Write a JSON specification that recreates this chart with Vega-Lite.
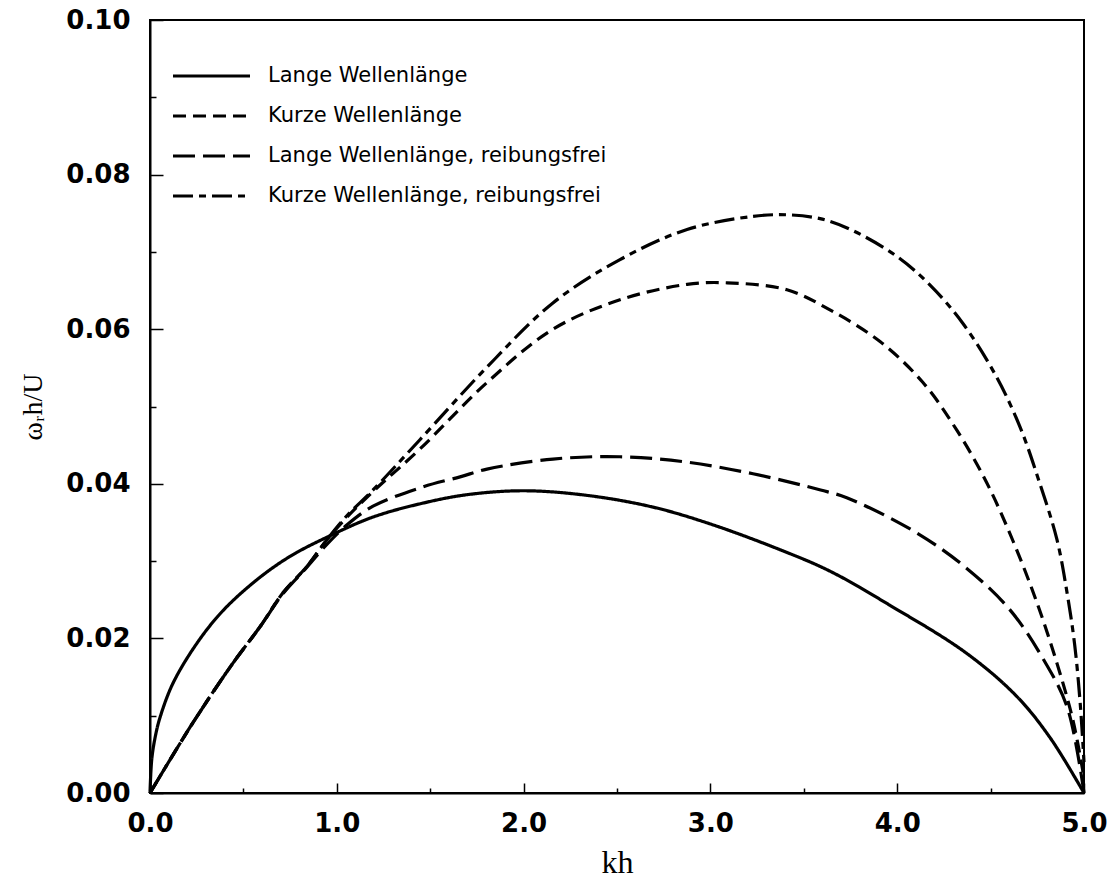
{
  "$schema": "https://vega.github.io/schema/vega-lite/v6.json",
  "width": 934,
  "height": 773,
  "autosize": {"type": "none"},
  "padding": {"left": 150, "top": 20, "right": 28, "bottom": 88},
  "background": "white",
  "config": {"view": {"stroke": "black", "strokeWidth": 2}},
  "datasets": {
    "curves": [
      {"kurve": "Lange Wellenlänge", "kh": 0, "omega": 0},
      {"kurve": "Lange Wellenlänge", "kh": 0.01, "omega": 0.0045},
      {"kurve": "Lange Wellenlänge", "kh": 0.03, "omega": 0.0075},
      {"kurve": "Lange Wellenlänge", "kh": 0.054, "omega": 0.0098},
      {"kurve": "Lange Wellenlänge", "kh": 0.123, "omega": 0.0142},
      {"kurve": "Lange Wellenlänge", "kh": 0.252, "omega": 0.0194},
      {"kurve": "Lange Wellenlänge", "kh": 0.391, "omega": 0.0236},
      {"kurve": "Lange Wellenlänge", "kh": 0.573, "omega": 0.0276},
      {"kurve": "Lange Wellenlänge", "kh": 0.749, "omega": 0.0306},
      {"kurve": "Lange Wellenlänge", "kh": 0.948, "omega": 0.0331},
      {"kurve": "Lange Wellenlänge", "kh": 1.194, "omega": 0.0357},
      {"kurve": "Lange Wellenlänge", "kh": 1.461, "omega": 0.0375},
      {"kurve": "Lange Wellenlänge", "kh": 1.7, "omega": 0.0386},
      {"kurve": "Lange Wellenlänge", "kh": 2.0, "omega": 0.0391},
      {"kurve": "Lange Wellenlänge", "kh": 2.34, "omega": 0.0385},
      {"kurve": "Lange Wellenlänge", "kh": 2.69, "omega": 0.037},
      {"kurve": "Lange Wellenlänge", "kh": 3.0, "omega": 0.0348},
      {"kurve": "Lange Wellenlänge", "kh": 3.37, "omega": 0.0315},
      {"kurve": "Lange Wellenlänge", "kh": 3.64, "omega": 0.0287},
      {"kurve": "Lange Wellenlänge", "kh": 3.96, "omega": 0.0243},
      {"kurve": "Lange Wellenlänge", "kh": 4.37, "omega": 0.0181},
      {"kurve": "Lange Wellenlänge", "kh": 4.64, "omega": 0.0125},
      {"kurve": "Lange Wellenlänge", "kh": 4.82, "omega": 0.0071},
      {"kurve": "Lange Wellenlänge", "kh": 5.0, "omega": 0.0},

      {"kurve": "Kurze Wellenlänge", "kh": 0, "omega": 0},
      {"kurve": "Kurze Wellenlänge", "kh": 0.23, "omega": 0.0091},
      {"kurve": "Kurze Wellenlänge", "kh": 0.444, "omega": 0.0168},
      {"kurve": "Kurze Wellenlänge", "kh": 0.589, "omega": 0.0215},
      {"kurve": "Kurze Wellenlänge", "kh": 0.712, "omega": 0.0259},
      {"kurve": "Kurze Wellenlänge", "kh": 0.84, "omega": 0.0293},
      {"kurve": "Kurze Wellenlänge", "kh": 0.948, "omega": 0.0328},
      {"kurve": "Kurze Wellenlänge", "kh": 1.055, "omega": 0.0357},
      {"kurve": "Kurze Wellenlänge", "kh": 1.194, "omega": 0.039},
      {"kurve": "Kurze Wellenlänge", "kh": 1.445, "omega": 0.0445},
      {"kurve": "Kurze Wellenlänge", "kh": 1.804, "omega": 0.0531},
      {"kurve": "Kurze Wellenlänge", "kh": 2.157, "omega": 0.06},
      {"kurve": "Kurze Wellenlänge", "kh": 2.516, "omega": 0.0638},
      {"kurve": "Kurze Wellenlänge", "kh": 2.875, "omega": 0.0658},
      {"kurve": "Kurze Wellenlänge", "kh": 3.09, "omega": 0.066},
      {"kurve": "Kurze Wellenlänge", "kh": 3.41, "omega": 0.0651},
      {"kurve": "Kurze Wellenlänge", "kh": 3.64, "omega": 0.0625},
      {"kurve": "Kurze Wellenlänge", "kh": 3.908, "omega": 0.0584},
      {"kurve": "Kurze Wellenlänge", "kh": 4.138, "omega": 0.0531},
      {"kurve": "Kurze Wellenlänge", "kh": 4.32, "omega": 0.0469},
      {"kurve": "Kurze Wellenlänge", "kh": 4.48, "omega": 0.0401},
      {"kurve": "Kurze Wellenlänge", "kh": 4.62, "omega": 0.0326},
      {"kurve": "Kurze Wellenlänge", "kh": 4.75, "omega": 0.0245},
      {"kurve": "Kurze Wellenlänge", "kh": 4.855, "omega": 0.0168},
      {"kurve": "Kurze Wellenlänge", "kh": 4.94, "omega": 0.0095},
      {"kurve": "Kurze Wellenlänge", "kh": 5.0, "omega": 0.002},

      {"kurve": "Lange Wellenlänge, reibungsfrei", "kh": 0, "omega": 0},
      {"kurve": "Lange Wellenlänge, reibungsfrei", "kh": 0.23, "omega": 0.0091},
      {"kurve": "Lange Wellenlänge, reibungsfrei", "kh": 0.444, "omega": 0.0168},
      {"kurve": "Lange Wellenlänge, reibungsfrei", "kh": 0.589, "omega": 0.0215},
      {"kurve": "Lange Wellenlänge, reibungsfrei", "kh": 0.712, "omega": 0.0258},
      {"kurve": "Lange Wellenlänge, reibungsfrei", "kh": 0.84, "omega": 0.0292},
      {"kurve": "Lange Wellenlänge, reibungsfrei", "kh": 0.948, "omega": 0.0322},
      {"kurve": "Lange Wellenlänge, reibungsfrei", "kh": 1.055, "omega": 0.0347},
      {"kurve": "Lange Wellenlänge, reibungsfrei", "kh": 1.194, "omega": 0.0371},
      {"kurve": "Lange Wellenlänge, reibungsfrei", "kh": 1.461, "omega": 0.0396},
      {"kurve": "Lange Wellenlänge, reibungsfrei", "kh": 1.66, "omega": 0.0409},
      {"kurve": "Lange Wellenlänge, reibungsfrei", "kh": 1.804, "omega": 0.0419},
      {"kurve": "Lange Wellenlänge, reibungsfrei", "kh": 2.157, "omega": 0.0432},
      {"kurve": "Lange Wellenlänge, reibungsfrei", "kh": 2.516, "omega": 0.0435},
      {"kurve": "Lange Wellenlänge, reibungsfrei", "kh": 2.875, "omega": 0.0428},
      {"kurve": "Lange Wellenlänge, reibungsfrei", "kh": 3.228, "omega": 0.0413},
      {"kurve": "Lange Wellenlänge, reibungsfrei", "kh": 3.59, "omega": 0.0392},
      {"kurve": "Lange Wellenlänge, reibungsfrei", "kh": 3.73, "omega": 0.0382},
      {"kurve": "Lange Wellenlänge, reibungsfrei", "kh": 4.08, "omega": 0.034},
      {"kurve": "Lange Wellenlänge, reibungsfrei", "kh": 4.35, "omega": 0.0295},
      {"kurve": "Lange Wellenlänge, reibungsfrei", "kh": 4.6, "omega": 0.0238},
      {"kurve": "Lange Wellenlänge, reibungsfrei", "kh": 4.78, "omega": 0.0174},
      {"kurve": "Lange Wellenlänge, reibungsfrei", "kh": 4.91, "omega": 0.0111},
      {"kurve": "Lange Wellenlänge, reibungsfrei", "kh": 5.0, "omega": 0.0},

      {"kurve": "Kurze Wellenlänge, reibungsfrei", "kh": 0, "omega": 0},
      {"kurve": "Kurze Wellenlänge, reibungsfrei", "kh": 0.23, "omega": 0.0091},
      {"kurve": "Kurze Wellenlänge, reibungsfrei", "kh": 0.444, "omega": 0.0168},
      {"kurve": "Kurze Wellenlänge, reibungsfrei", "kh": 0.589, "omega": 0.0215},
      {"kurve": "Kurze Wellenlänge, reibungsfrei", "kh": 0.712, "omega": 0.0259},
      {"kurve": "Kurze Wellenlänge, reibungsfrei", "kh": 0.84, "omega": 0.0293},
      {"kurve": "Kurze Wellenlänge, reibungsfrei", "kh": 0.948, "omega": 0.0328},
      {"kurve": "Kurze Wellenlänge, reibungsfrei", "kh": 1.055, "omega": 0.0359},
      {"kurve": "Kurze Wellenlänge, reibungsfrei", "kh": 1.194, "omega": 0.0392},
      {"kurve": "Kurze Wellenlänge, reibungsfrei", "kh": 1.445, "omega": 0.0457},
      {"kurve": "Kurze Wellenlänge, reibungsfrei", "kh": 1.804, "omega": 0.0551},
      {"kurve": "Kurze Wellenlänge, reibungsfrei", "kh": 2.157, "omega": 0.0634},
      {"kurve": "Kurze Wellenlänge, reibungsfrei", "kh": 2.516, "omega": 0.069},
      {"kurve": "Kurze Wellenlänge, reibungsfrei", "kh": 2.875, "omega": 0.0729},
      {"kurve": "Kurze Wellenlänge, reibungsfrei", "kh": 3.228, "omega": 0.0746},
      {"kurve": "Kurze Wellenlänge, reibungsfrei", "kh": 3.41, "omega": 0.0748},
      {"kurve": "Kurze Wellenlänge, reibungsfrei", "kh": 3.587, "omega": 0.0743},
      {"kurve": "Kurze Wellenlänge, reibungsfrei", "kh": 3.75, "omega": 0.0729},
      {"kurve": "Kurze Wellenlänge, reibungsfrei", "kh": 4.0, "omega": 0.0694},
      {"kurve": "Kurze Wellenlänge, reibungsfrei", "kh": 4.176, "omega": 0.0657},
      {"kurve": "Kurze Wellenlänge, reibungsfrei", "kh": 4.35, "omega": 0.0608},
      {"kurve": "Kurze Wellenlänge, reibungsfrei", "kh": 4.53, "omega": 0.0539},
      {"kurve": "Kurze Wellenlänge, reibungsfrei", "kh": 4.66, "omega": 0.0472},
      {"kurve": "Kurze Wellenlänge, reibungsfrei", "kh": 4.76, "omega": 0.0403},
      {"kurve": "Kurze Wellenlänge, reibungsfrei", "kh": 4.855, "omega": 0.0328},
      {"kurve": "Kurze Wellenlänge, reibungsfrei", "kh": 4.91, "omega": 0.0258},
      {"kurve": "Kurze Wellenlänge, reibungsfrei", "kh": 4.95, "omega": 0.0192},
      {"kurve": "Kurze Wellenlänge, reibungsfrei", "kh": 4.98, "omega": 0.0115},
      {"kurve": "Kurze Wellenlänge, reibungsfrei", "kh": 5.0, "omega": 0.004}
    ]
  },
  "data": {"name": "curves"},
  "mark": {"type": "line", "color": "black", "strokeWidth": 3.2, "interpolate": "catmull-rom"},
  "encoding": {
    "x": {
      "field": "kh",
      "type": "quantitative",
      "scale": {"domain": [0, 5], "nice": false, "zero": false},
      "axis": {
        "title": "kh",
        "titleFont": "Liberation Serif",
        "titleFontSize": 32,
        "titleFontWeight": "normal",
        "titleColor": "black",
        "titlePadding": 6,
        "values": [0, 0.5, 1, 1.5, 2, 2.5, 3, 3.5, 4, 4.5, 5],
        "labelExpr": "datum.value % 1 == 0 ? format(datum.value, '.1f') : ''",
        "labelFont": "DejaVu Sans",
        "labelFontSize": 26,
        "labelFontWeight": "bold",
        "labelColor": "black",
        "labelPadding": 27,
        "labelFlush": false,
        "labelOverlap": false,
        "tickColor": "black",
        "tickWidth": 1.5,
        "tickSize": {"condition": {"test": "datum.value % 1 != 0", "value": -5}, "value": -10},
        "domainColor": "black",
        "domainWidth": 2,
        "grid": false
      }
    },
    "y": {
      "field": "omega",
      "type": "quantitative",
      "scale": {"domain": [0, 0.1], "nice": false},
      "axis": {
        "title": "ωᵣh/U",
        "titleFont": "Liberation Serif",
        "titleFontSize": 28,
        "titleFontWeight": "normal",
        "titleColor": "black",
        "titlePadding": 18,
        "values": [0, 0.01, 0.02, 0.03, 0.04, 0.05, 0.06, 0.07, 0.08, 0.09, 0.1],
        "labelExpr": "round(datum.value * 100) % 2 == 0 ? format(datum.value, '.2f') : ''",
        "labelFont": "DejaVu Sans",
        "labelFontSize": 26,
        "labelFontWeight": "bold",
        "labelColor": "black",
        "labelPadding": 33,
        "labelFlush": false,
        "labelOverlap": false,
        "tickColor": "black",
        "tickWidth": 1.5,
        "tickSize": {"condition": {"test": "round(datum.value * 100) % 2 == 1", "value": -6}, "value": -13},
        "domainColor": "black",
        "domainWidth": 2,
        "grid": false
      }
    },
    "strokeDash": {
      "field": "kurve",
      "type": "nominal",
      "scale": {
        "domain": ["Lange Wellenlänge", "Kurze Wellenlänge", "Lange Wellenlänge, reibungsfrei", "Kurze Wellenlänge, reibungsfrei"],
        "range": [[1, 0], [13, 7], [22, 8], [20, 6, 7, 6]]
      },
      "legend": {
        "title": null,
        "orient": "none",
        "legendX": 21,
        "legendY": 43,
        "padding": 0,
        "symbolType": "stroke",
        "symbolSize": 5929,
        "symbolStrokeWidth": 3.2,
        "symbolStrokeColor": "black",
        "labelFont": "DejaVu Sans",
        "labelFontSize": 21,
        "labelColor": "black",
        "labelOffset": 16,
        "labelLimit": 500,
        "clipHeight": 26,
        "rowPadding": 14
      }
    }
  }
}
